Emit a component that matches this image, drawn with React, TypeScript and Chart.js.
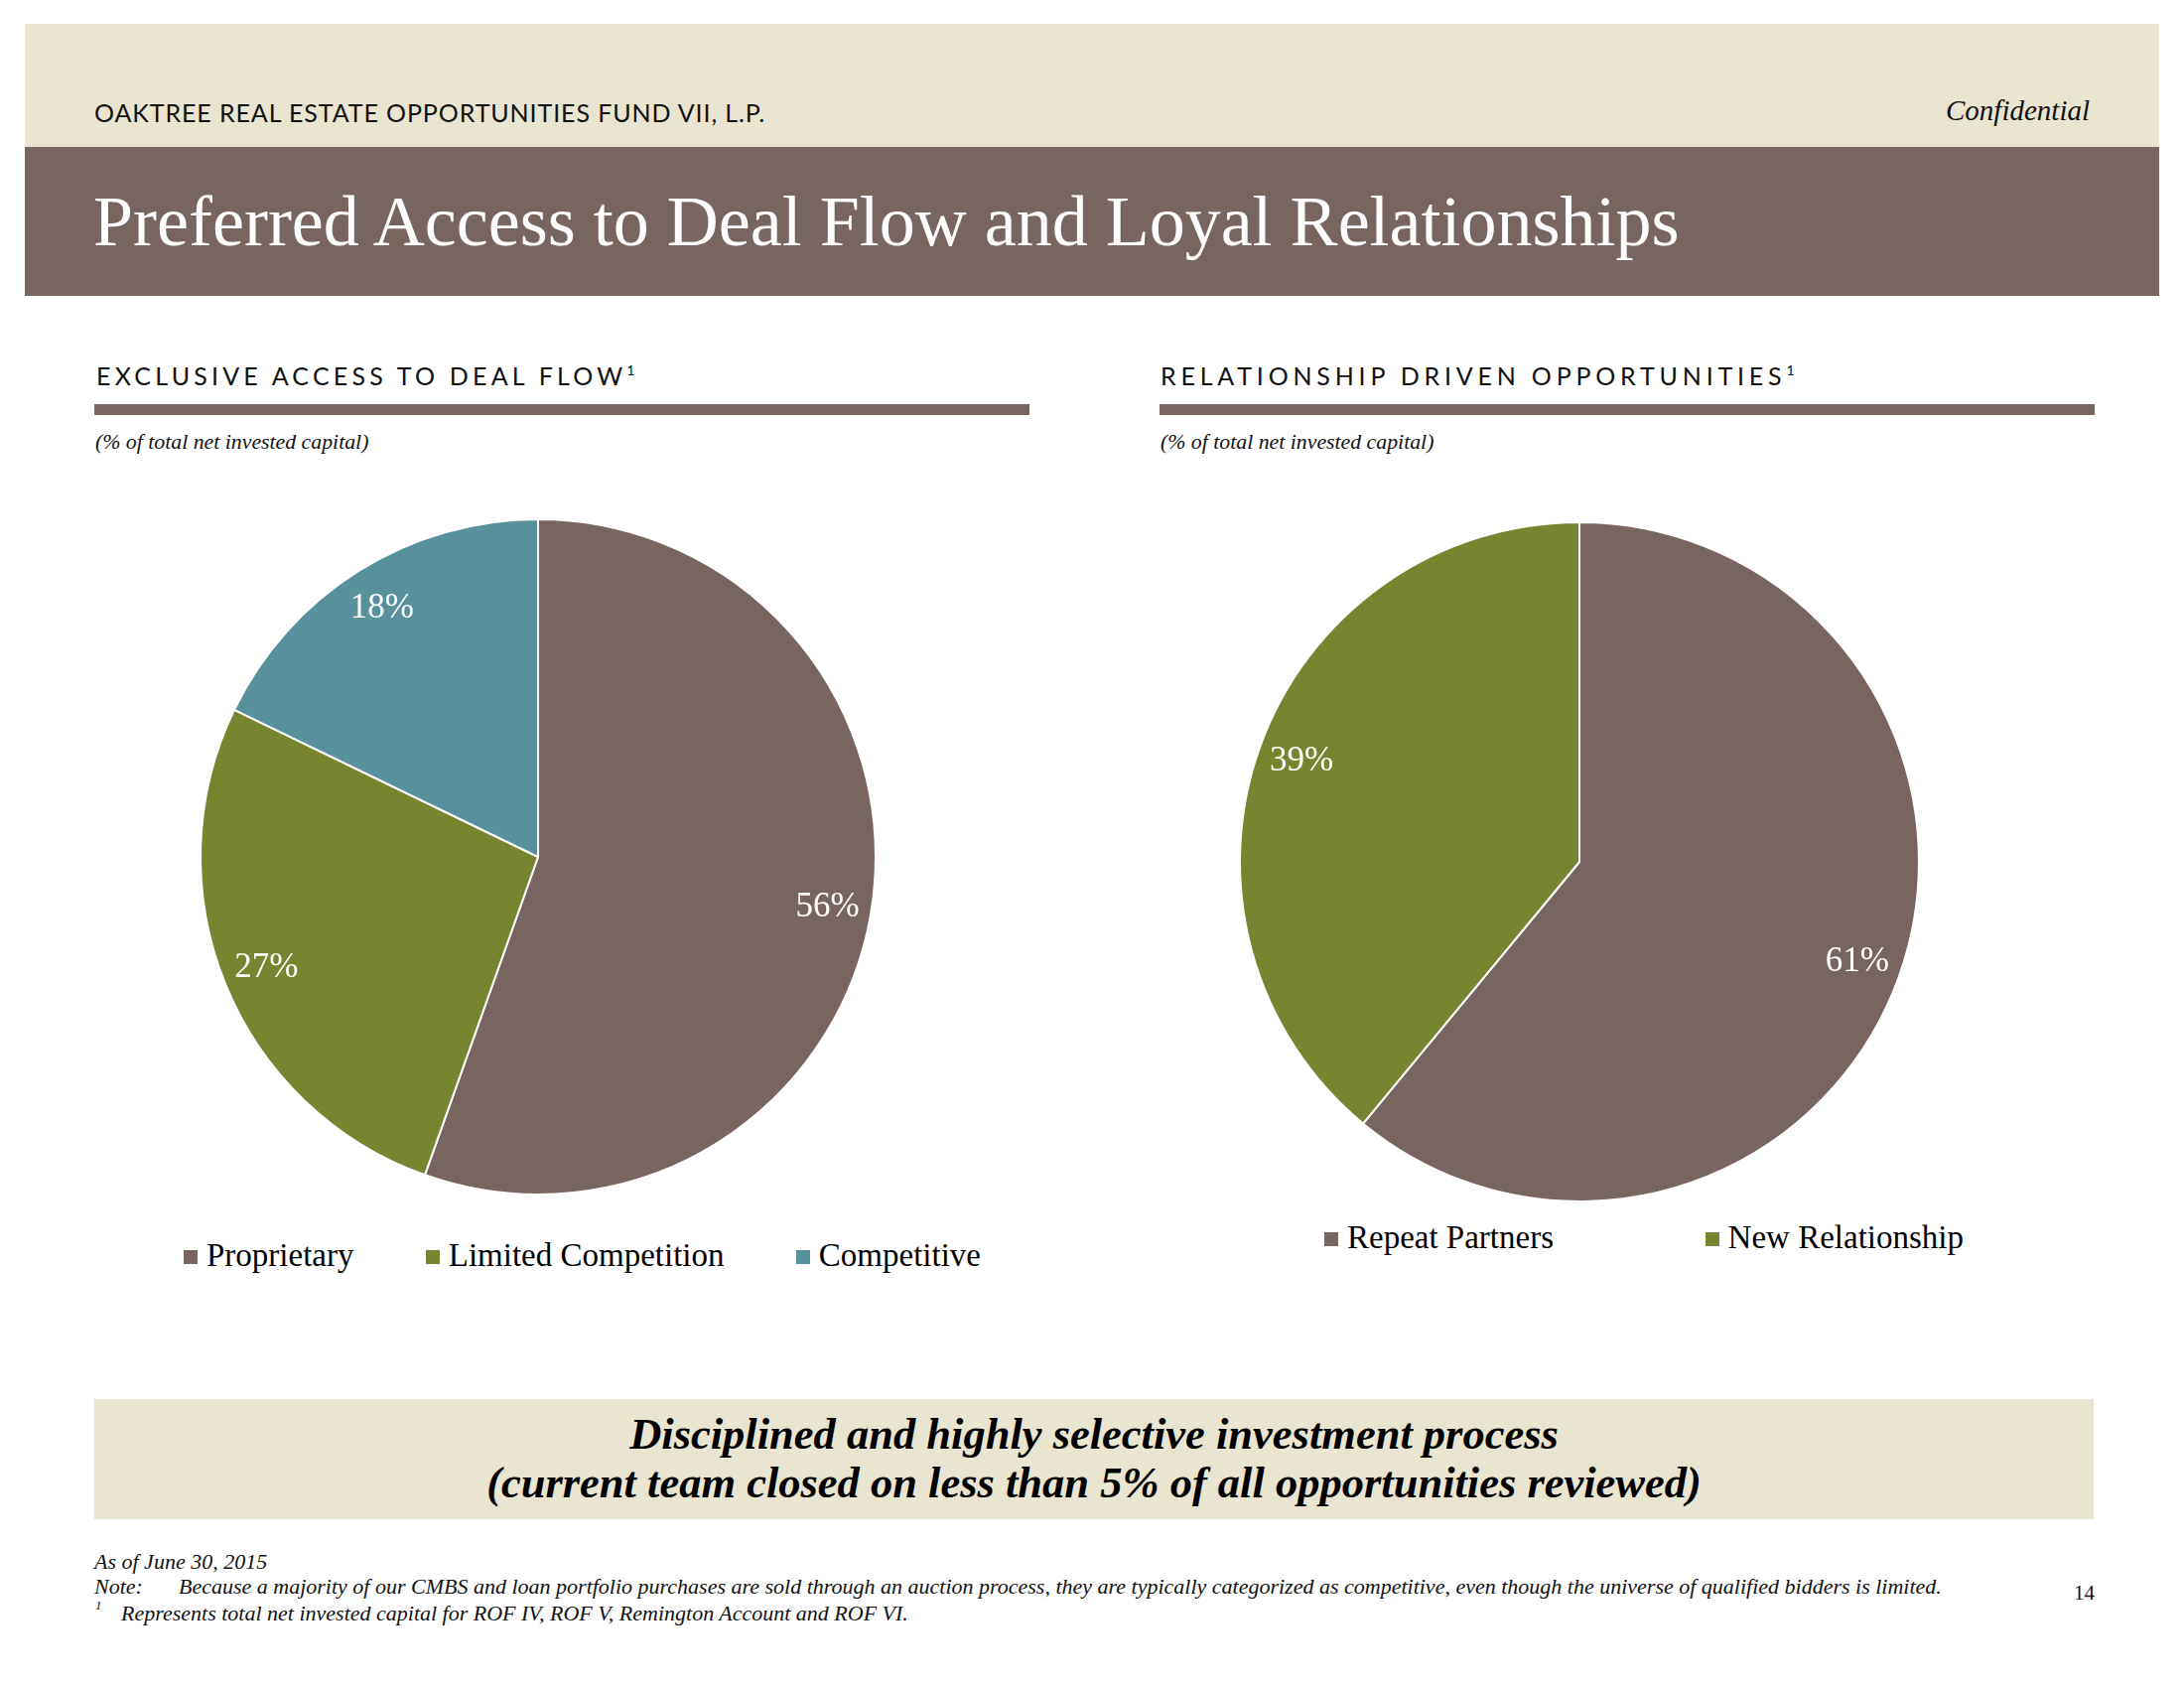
import React, { useEffect, useRef } from "react";
import { Chart, registerables } from "chart.js";

Chart.register(...registerables);

// ---- Data ----
const dealFlowLabels = ["Proprietary", "Limited Competition", "Competitive"];
const dealFlowValues = [56, 27, 18];
const dealFlowColors = ["#79655F", "#778530", "#58909B"];

const relationshipLabels = ["Repeat Partners", "New Relationship"];
const relationshipValues = [61, 39];
const relationshipColors = ["#79655F", "#778530"];

const BROWN = "#79655F";
const BEIGE = "#EAE5D0";
const SERIF = "'Liberation Serif', 'Times New Roman', serif";
const SANS = "Lato, 'Open Sans', sans-serif";

const pieLabelPlugin = {
  id: "pieLabels",
  afterDatasetsDraw(chart: any) {
    const ctx = chart.ctx;
    const ds = chart.data.datasets[0];
    const meta = chart.getDatasetMeta(0);
    ctx.save();
    ctx.fillStyle = "#ffffff";
    ctx.font = `35px ${SERIF}`;
    ctx.textAlign = "center";
    ctx.textBaseline = "middle";
    meta.data.forEach((arc: any, i: number) => {
      const p = arc.getProps(["x", "y", "startAngle", "endAngle", "outerRadius"], true);
      const mid = (p.startAngle + p.endAngle) / 2;
      const r = p.outerRadius * 0.87;
      ctx.fillText(`${ds.data[i]}%`, p.x + Math.cos(mid) * r, p.y + Math.sin(mid) * r);
    });
    ctx.restore();
  },
};

function PieChart(props: {
  labels: string[];
  values: number[];
  colors: string[];
  left: number;
  top: number;
  size: number;
}) {
  const ref = useRef<HTMLCanvasElement | null>(null);
  useEffect(() => {
    if (!ref.current) return;
    const chart = new Chart(ref.current, {
      type: "pie",
      data: {
        labels: props.labels,
        datasets: [
          {
            data: props.values,
            backgroundColor: props.colors,
            borderColor: "#ffffff",
            borderWidth: 2,
          },
        ],
      },
      options: {
        responsive: false,
        animation: false,
        layout: { padding: 10 },
        plugins: {
          legend: { display: false },
          tooltip: { enabled: false },
        },
      },
      plugins: [pieLabelPlugin],
    });
    return () => chart.destroy();
  }, []);
  return (
    <canvas
      ref={ref}
      width={props.size}
      height={props.size}
      style={{ position: "absolute", left: props.left, top: props.top, width: props.size, height: props.size }}
    />
  );
}

function Legend(props: { labels: string[]; colors: string[]; left: number; width: number; centerY: number }) {
  return (
    <div
      style={{
        position: "absolute",
        left: props.left,
        width: props.width,
        top: props.centerY - 20,
        height: 40,
        display: "flex",
        justifyContent: "space-between",
        alignItems: "center",
        fontFamily: SERIF,
        fontSize: 33,
        color: "#000",
        whiteSpace: "nowrap",
      }}
    >
      {props.labels.map((l, i) => (
        <div key={l} style={{ display: "flex", alignItems: "center" }}>
          <span style={{ display: "inline-block", width: 14, height: 14, background: props.colors[i], marginRight: 9, marginTop: 4 }} />
          <span style={{ lineHeight: "40px" }}>{l}</span>
        </div>
      ))}
    </div>
  );
}

function abs(left: number, top: number, extra: React.CSSProperties = {}): React.CSSProperties {
  return { position: "absolute", left, top, whiteSpace: "nowrap", lineHeight: 1, ...extra };
}

const foot: React.CSSProperties = { fontFamily: SERIF, fontStyle: "italic", fontSize: 22, color: "#111" };

export default function App() {
  return (
    <div style={{ position: "absolute", left: 0, top: 0, width: 2200, height: 1700, background: "#fff", overflow: "hidden" }}>
      {/* Header band */}
      <div style={{ position: "absolute", left: 25, top: 24, width: 2150, height: 124, background: BEIGE }} />
      <div style={abs(95, 101, { fontFamily: SANS, fontSize: 25, letterSpacing: 0.9, color: "#111" })}>
        OAKTREE REAL ESTATE OPPORTUNITIES FUND VII, L.P.
      </div>
      <div style={{ position: "absolute", right: 95, top: 97, whiteSpace: "nowrap", lineHeight: 1, fontFamily: SERIF, fontStyle: "italic", fontSize: 29, color: "#111" }}>
        Confidential
      </div>
      {/* Title band */}
      <div style={{ position: "absolute", left: 25, top: 148, width: 2150, height: 150, background: BROWN }} />
      <div style={abs(94, 187, { fontFamily: SERIF, fontSize: 72, color: "#fff" })}>
        Preferred Access to Deal Flow and Loyal Relationships
      </div>

      {/* Section headers */}
      <div style={abs(97, 366, { fontFamily: SANS, fontSize: 25, letterSpacing: 4.2, color: "#111" })}>
        EXCLUSIVE ACCESS TO DEAL FLOW<sup style={{ fontSize: 14, letterSpacing: 0, verticalAlign: 10 }}>1</sup>
      </div>
      <div style={{ position: "absolute", left: 95, top: 407, width: 942, height: 11, background: BROWN }} />
      <div style={abs(96, 435, { fontFamily: SERIF, fontStyle: "italic", fontSize: 21.8, color: "#111" })}>
        (% of total net invested capital)
      </div>

      <div style={abs(1169, 366, { fontFamily: SANS, fontSize: 25, letterSpacing: 4.8, color: "#111" })}>
        RELATIONSHIP DRIVEN OPPORTUNITIES<sup style={{ fontSize: 14, letterSpacing: 0, verticalAlign: 10 }}>1</sup>
      </div>
      <div style={{ position: "absolute", left: 1168, top: 407, width: 942, height: 11, background: BROWN }} />
      <div style={abs(1169, 435, { fontFamily: SERIF, fontStyle: "italic", fontSize: 21.8, color: "#111" })}>
        (% of total net invested capital)
      </div>

      {/* Charts */}
      <PieChart labels={dealFlowLabels} values={dealFlowValues} colors={dealFlowColors} left={191} top={512} size={702} />
      <Legend labels={dealFlowLabels} colors={dealFlowColors} left={185} width={803} centerY={1264} />

      <PieChart labels={relationshipLabels} values={relationshipValues} colors={relationshipColors} left={1238} top={515} size={706} />
      <Legend labels={relationshipLabels} colors={relationshipColors} left={1334} width={644} centerY={1246} />

      {/* Bottom box */}
      <div style={{ position: "absolute", left: 95, top: 1409, width: 2014, height: 121, background: BEIGE }} />
      <div
        style={{
          position: "absolute",
          left: 95,
          width: 2014,
          top: 1420,
          textAlign: "center",
          fontFamily: SERIF,
          fontStyle: "italic",
          fontWeight: "bold",
          fontSize: 44.5,
          lineHeight: "49px",
          color: "#000",
        }}
      >
        <div>Disciplined and highly selective investment process</div>
        <div>(current team closed on less than 5% of all opportunities reviewed)</div>
      </div>

      {/* Footnotes */}
      <div style={abs(95, 1562, foot)}>As of June 30, 2015</div>
      <div style={abs(95, 1587, foot)}>Note:</div>
      <div style={abs(180, 1587, foot)}>
        Because a majority of our CMBS and loan portfolio purchases are sold through an auction process, they are typically categorized as competitive, even though the universe of qualified bidders is limited.
      </div>
      <div style={abs(96, 1610, { ...foot, fontSize: 13 })}>1</div>
      <div style={abs(122, 1614, foot)}>
        Represents total net invested capital for ROF IV, ROF V, Remington Account and ROF VI.
      </div>
      <div style={{ position: "absolute", right: 90, top: 1594, lineHeight: 1, fontFamily: SERIF, fontSize: 21, color: "#111" }}>14</div>
    </div>
  );
}
